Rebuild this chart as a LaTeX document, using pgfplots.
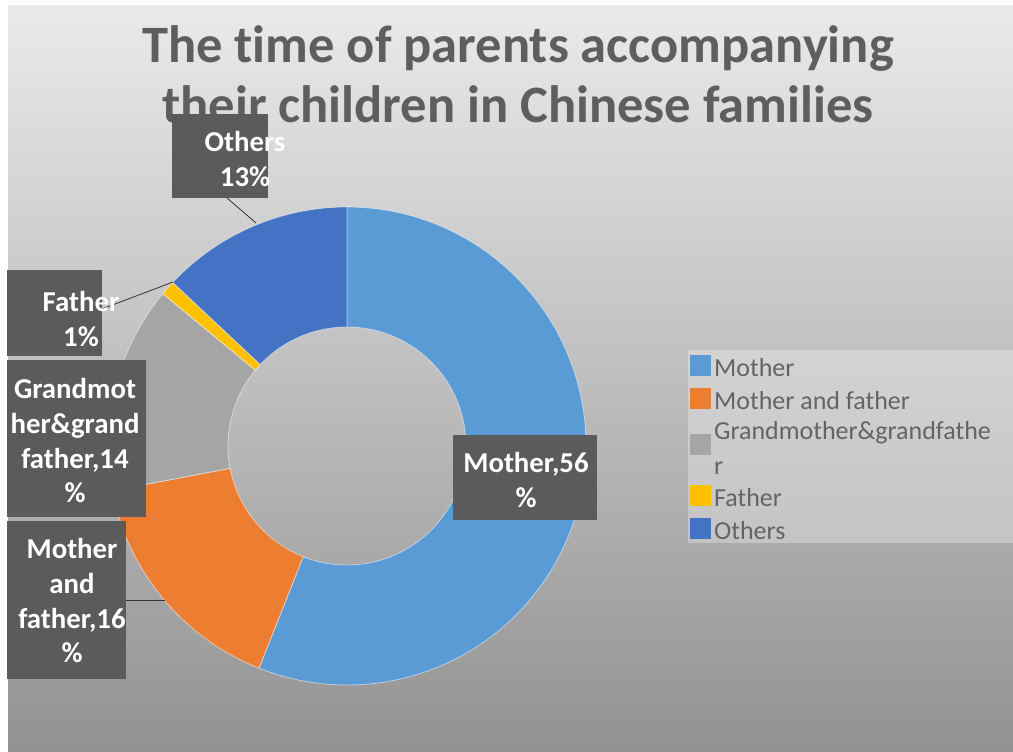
\documentclass[border=0pt]{standalone}
\usepackage{fontspec}
\setmainfont{Carlito}[Ligatures=NoCommon]
\usepackage{pgfplots}
\pgfplotsset{compat=1.18}
\usepackage{pgfplotstable}

\definecolor{cMother}{HTML}{5B9BD5}
\definecolor{cMaf}{HTML}{ED7D31}
\definecolor{cGrand}{HTML}{A5A5A5}
\definecolor{cFather}{HTML}{FFC000}
\definecolor{cOthers}{HTML}{4472C4}
\definecolor{bgTop}{HTML}{EAEAEA}
\definecolor{bgMid}{HTML}{C6C6C6}
\definecolor{bgBot}{HTML}{929292}
\definecolor{titleGray}{HTML}{5E5E5E}
\definecolor{legGray}{HTML}{646464}
\definecolor{lblFill}{HTML}{5B5B5B}

% shares in percent, clockwise from 12 o'clock
\pgfplotstableread{
share color
56 cMother
16 cMaf
14 cGrand
1  cFather
13 cOthers
}\donutdata

\begin{document}
\begin{tikzpicture}
\begin{axis}[
    at={(0,0)}, anchor=south west,
    width=759.75pt, height=564pt, scale only axis,
    xmin=0, xmax=1013, ymin=0, ymax=752, y dir=reverse,
    hide axis, clip=false,
    legend style={
        at={(axis cs:690,355)}, anchor=north west,
        draw=none, fill=none, inner sep=0pt, row sep=0pt,
        font=\fontsize{19.5}{24}\selectfont, text=legGray,
        nodes={inner xsep=2.5pt, inner ysep=0pt, text height=14.3pt, text depth=8.5pt},
    },
    legend cell align=left,
    legend image code/.code={\fill[#1] (0pt,-2pt) rectangle (15pt,13pt);},
]
% background
\fill[white] (axis cs:0,0) rectangle (axis cs:1013,752);
\shade[top color=bgTop, middle color=bgMid, bottom color=bgBot]
    (axis cs:8,6) rectangle (axis cs:1013,752);
\fill[white, opacity=0.3] (axis cs:688,350) rectangle (axis cs:1013,543);

% title
\node[font=\bfseries\fontsize{39.4}{45}\selectfont, text=titleGray, align=center]
    at (axis cs:518,74) {The time of parents accompanying\\their children in Chinese families};

% donut ring
\pgfmathsetmacro{\startang}{90}
\pgfplotsforeachungrouped \i in {0,...,4}{
    \pgfplotstablegetelem{\i}{share}\of\donutdata
    \let\share\pgfplotsretval
    \pgfplotstablegetelem{\i}{color}\of\donutdata
    \let\slicecol\pgfplotsretval
    \pgfmathsetmacro{\endang}{\startang-3.6*\share}
    \edef\doslice{\noexpand\filldraw[fill=\slicecol, draw=white, draw opacity=0.5, line width=0.6pt]
        (axis cs:347,446) ++(\startang:179.25pt)
        arc[start angle=\startang, end angle=\endang, radius=179.25pt]
        -- ++(\endang:-90pt)
        arc[start angle=\endang, end angle=\startang, radius=89.25pt] -- cycle;}
    \doslice
    \global\let\startang\endang
}

% leader lines
\draw[black!80, line width=0.6pt] (axis cs:227,198) -- (axis cs:256,223);
\draw[black!80, line width=0.6pt] (axis cs:102,309) -- (axis cs:173,282);
\draw[black!80, line width=0.6pt] (axis cs:126,600) -- (axis cs:165,600);

% data labels
\tikzset{lbl/.style={text=white, font=\bfseries\fontsize{21.6}{26}\selectfont, align=center}}
\fill[lblFill] (axis cs:172,114) rectangle (axis cs:268,198);
\node[lbl] at (axis cs:245,159) {Others\\13\%};
\fill[lblFill] (axis cs:7,270) rectangle (axis cs:102,356);
\node[lbl] at (axis cs:81,319) {Father\\1\%};
\fill[lblFill] (axis cs:7,360) rectangle (axis cs:146,517);
\node[lbl] at (axis cs:75,441) {Grandmot\\her\&grand\\father,14\\\%};
\fill[lblFill] (axis cs:7,521) rectangle (axis cs:126,679);
\node[lbl] at (axis cs:72,601) {Mother\\and\\father,16\\\%};
\fill[lblFill] (axis cs:453,435) rectangle (axis cs:597,520);
\node[lbl] at (axis cs:526,480) {Mother,56\\\%};

% legend
\addlegendimage{cMother}
\addlegendentry{Mother}
\addlegendimage{cMaf}
\addlegendentry{Mother and father}
\addlegendimage{legend image code/.code={\fill[cGrand] (0pt,-14pt) rectangle (15pt,1pt);}}
\addlegendentry{Grandmother\&grandfathe}
\addlegendimage{legend image code/.code={}}
\addlegendentry{r}
\addlegendimage{cFather}
\addlegendentry{Father}
\addlegendimage{cOthers}
\addlegendentry{Others}
\end{axis}
\end{tikzpicture}
\end{document}
